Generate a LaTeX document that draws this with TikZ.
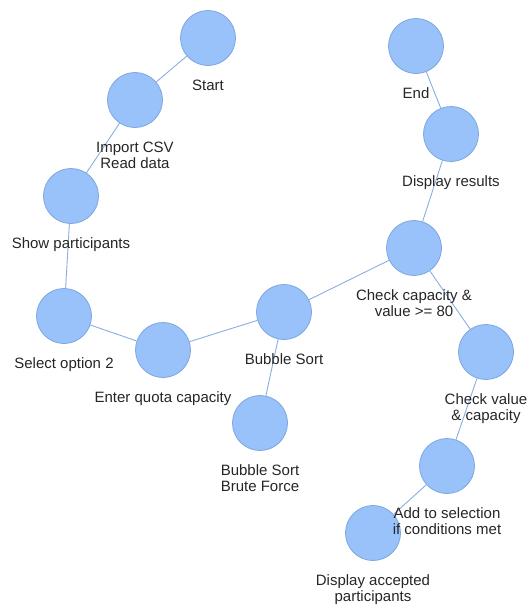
\documentclass[tikz,border=0pt]{standalone}
\usepackage{fontspec}
\setmainfont{Liberation Sans}
\usepackage{xcolor}
\usepackage{tikz}
\usetikzlibrary{positioning}

\definecolor{statefill}{HTML}{99C2FA}
\definecolor{stateborder}{HTML}{7DA6DE}
\definecolor{linkcolor}{HTML}{8AAEE0}

\begin{document}
\begin{tikzpicture}[
    x = 1pt, y = -1pt,
    node distance = 13.5pt]
    \tikzstyle{state}=[circle,draw=stateborder,fill=statefill,line width=0.8pt,
      minimum size=55pt,inner sep=0pt]
    \tikzstyle{caption}=[inner sep=0pt,align=center,text=black!85,
      font=\fontsize{15}{16}\selectfont]
    \useasboundingbox (0,0) rectangle (528,605);
    % states
    \node[state] (start)    at (208,38)  {};
    \node[state] (import)   at (135,100) {};
    \node[state] (show)     at (71,196)  {};
    \node[state] (select)   at (64,316)  {};
    \node[state] (quota)    at (163,350) {};
    \node[state] (bubble)   at (284,312) {};
    \node[state] (brute)    at (260,423) {};
    \node[state] (checkcap) at (414,248) {};
    \node[state] (results)  at (451,134) {};
    \node[state] (stop)     at (416,46)  {};
    \node[state] (checkval) at (486,352) {};
    \node[state] (addsel)   at (447,466) {};
    \node[state] (accepted) at (373,533) {};
    % links
    \path[draw=linkcolor, line width=0.9pt]
    (start) edge (import)
    (import) edge (show)
    (show) edge (select)
    (select) edge (quota)
    (quota) edge (bubble)
    (bubble) edge (brute)
             edge (checkcap)
    (checkcap) edge (results)
               edge (checkval)
    (results) edge (stop)
    (checkval) edge (addsel)
    (addsel) edge (accepted) ;
    % captions
    \node[caption] (startlabel)    [below=of start]    {Start};
    \node[caption] (importlabel)   [below=of import]   {Import CSV\\Read data};
    \node[caption] (showlabel)     [below=of show]     {Show participants};
    \node[caption] (selectlabel)   [below=of select]   {Select option 2};
    \node[caption] (quotalabel)    [below=of quota]    {Enter quota capacity};
    \node[caption] (bubblelabel)   [below=of bubble]   {Bubble Sort};
    \node[caption] (brutelabel)    [below=of brute]    {Bubble Sort\\Brute Force};
    \node[caption] (checkcaplabel) [below=of checkcap] {Check capacity \&\\value >= 80};
    \node[caption] (resultslabel)  [below=of results]  {Display results};
    \node[caption] (stoplabel)     [below=of stop]     {End};
    \node[caption] (checkvallabel) [below=of checkval] {Check value\\\& capacity};
    \node[caption] (addsellabel)   [below=of addsel]   {Add to selection\\if conditions met};
    \node[caption] (acceptedlabel) [below=of accepted] {Display accepted\\participants};
\end{tikzpicture}
\end{document}
